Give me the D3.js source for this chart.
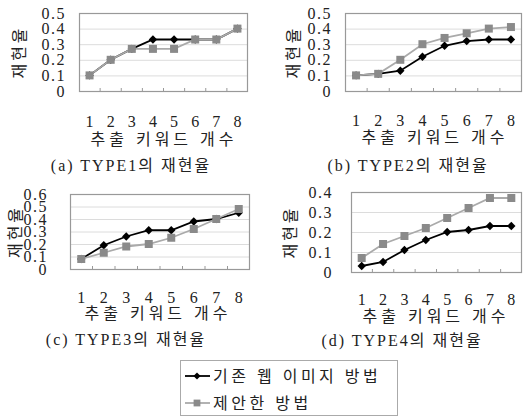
<!DOCTYPE html>
<html>
<head>
<meta charset="utf-8">
<script src="https://cdn.jsdelivr.net/npm/d3@7"></script>
<style>
  body { margin: 0; background: #fff; }
  svg text { font-family: "Liberation Serif", "Noto Sans CJK KR", serif; fill: #222; }
</style>
</head>
<body>
<div id="chart"></div>
<script>
// categories: number of extracted keywords
var keywordCounts = [1, 2, 3, 4, 5, 6, 7, 8];

// recall values, existing web-image method (black diamonds)
var type1Existing = [0.10, 0.20, 0.27, 0.33, 0.33, 0.33, 0.33, 0.40];
var type2Existing = [0.10, 0.11, 0.13, 0.22, 0.29, 0.32, 0.33, 0.33];
var type3Existing = [0.08, 0.19, 0.26, 0.31, 0.31, 0.38, 0.40, 0.45];
var type4Existing = [0.03, 0.05, 0.11, 0.16, 0.20, 0.21, 0.23, 0.23];

// recall values, proposed method (grey squares)
var type1Proposed = [0.10, 0.20, 0.27, 0.27, 0.27, 0.33, 0.33, 0.40];
var type2Proposed = [0.10, 0.11, 0.20, 0.30, 0.34, 0.37, 0.40, 0.41];
var type3Proposed = [0.08, 0.13, 0.18, 0.20, 0.25, 0.32, 0.40, 0.48];
var type4Proposed = [0.07, 0.14, 0.18, 0.22, 0.27, 0.32, 0.37, 0.37];

var yTicks5 = [0, 0.1, 0.2, 0.3, 0.4, 0.5];
var yTicks6 = [0, 0.1, 0.2, 0.3, 0.4, 0.5, 0.6];
var yTicks4 = [0, 0.1, 0.2, 0.3, 0.4];

var captions = ["(a) TYPE1의 재현율", "(b) TYPE2의 재현율", "(c) TYPE3의 재현율", "(d) TYPE4의 재현율"];
var yTitle = "재현율";
var xTitle = "추출 키워드 개수";
var legendLabels = ["기존 웹 이미지 방법", "제안한 방법"];

function run() {
  var width = 530, height = 417;
  var svg = d3.select("#chart").append("svg")
    .attr("width", width)
    .attr("height", height);

  // panel layout (box edges, label positions)
  var panels = [
    { a: type1Existing, b: type1Proposed, ticks: yTicks5, cap: captions[0],
      x0: 79, x1: 248, y0: 13, y1: 91, labPad: 13, titleX: 19, numY: 121, xtY: 139, xtX: 164, capY: 165, capX: 131 },
    { a: type2Existing, b: type2Proposed, ticks: yTicks5, cap: captions[1],
      x0: 345, x1: 522, y0: 13, y1: 91, labPad: 13, titleX: 293, numY: 120, xtY: 137, xtX: 435, capY: 165, capX: 408 },
    { a: type3Existing, b: type3Proposed, ticks: yTicks6, cap: captions[2],
      x0: 70, x1: 250, y0: 194, y1: 269, labPad: 22, titleX: 15, numY: 297, xtY: 313, xtX: 158, capY: 339, capX: 126 },
    { a: type4Existing, b: type4Proposed, ticks: yTicks4, cap: captions[3],
      x0: 351, x1: 522, y0: 192, y1: 272, labPad: 18, titleX: 290, numY: 299, xtY: 316, xtX: 436, capY: 340, capX: 402 }
  ];

  panels.forEach(function(p) { drawPanel(svg, p); });

  // legend
  var lg = svg.append("g");
  lg.append("rect")
    .attr("x", 180.5).attr("y", 360.5)
    .attr("width", 217).attr("height", 55)
    .attr("fill", "#fff").attr("stroke", "#aaa");
  legendLabels.forEach(function(lab, i) {
    var yy = 376 + i * 27;
    var col = i === 0 ? "#000" : "#aaa";
    lg.append("line")
      .attr("x1", 185).attr("x2", 210).attr("y1", yy).attr("y2", yy)
      .attr("stroke", col).attr("stroke-width", 1.8);
    marker(lg, i, 197, yy, 0.85);
    lg.append("text")
      .attr("x", 213).attr("y", yy)
      .attr("dy", "0.36em")
      .attr("font-size", 16)
      .attr("letter-spacing", 3.5)
      .text(lab);
  });
}

function marker(g, kind, cx, cy, k) {
  if (kind === 0) {
    var s = 4.2 * k;
    g.append("path")
      .attr("d", "M" + cx + "," + (cy - s) + "L" + (cx + s) + "," + cy + "L" + cx + "," + (cy + s) + "L" + (cx - s) + "," + cy + "Z")
      .attr("fill", "#000");
  } else {
    var h = 4 * k;
    g.append("rect")
      .attr("x", cx - h).attr("y", cy - h)
      .attr("width", 2 * h).attr("height", 2 * h)
      .attr("fill", "#8a8a8a");
  }
}

function drawPanel(svg, p) {
  var g = svg.append("g");

  var x = d3.scaleBand()
    .domain(keywordCounts)
    .range([p.x0, p.x1])
    .padding(0);

  var y = d3.scaleLinear()
    .domain([0, d3.max(p.ticks)])
    .range([p.y1, p.y0]);

  // gridlines
  g.append("g")
    .attr("transform", "translate(" + p.x0 + ",0)")
    .call(d3.axisLeft(y).tickValues(p.ticks.slice(1)).tickSize(-(p.x1 - p.x0)).tickFormat(""))
    .call(function(a) {
      a.select(".domain").remove();
      a.selectAll("line").attr("stroke", "#dcdcdc");
    });

  // y labels
  g.append("g")
    .attr("transform", "translate(" + p.x0 + ",0)")
    .call(d3.axisLeft(y).tickValues(p.ticks).tickSize(0).tickPadding(p.labPad)
      .tickFormat(function(d) { return d === 0 ? "0" : d.toFixed(1); }))
    .call(function(a) {
      a.select(".domain").remove();
      a.selectAll("text")
        .attr("font-size", 16)
        .attr("letter-spacing", 1.5)
        .attr("fill", "#222")
        .style("font-family", "'Liberation Serif', serif");
    });

  // small category ticks on the bottom edge
  var bounds = keywordCounts.slice(1).map(function(d) { return x(d); });
  g.selectAll(".ctick").data(bounds).enter().append("line")
    .attr("x1", function(d) { return d; }).attr("x2", function(d) { return d; })
    .attr("y1", p.y1).attr("y2", p.y1 - 3)
    .attr("stroke", "#999");

  // plot frame
  g.append("rect")
    .attr("x", p.x0 + 0.5).attr("y", p.y0 + 0.5)
    .attr("width", p.x1 - p.x0 - 1).attr("height", p.y1 - p.y0)
    .attr("fill", "none").attr("stroke", "#999").attr("stroke-width", 1.2);

  // x labels
  g.append("g")
    .attr("transform", "translate(0," + p.numY + ")")
    .call(d3.axisBottom(x).tickSize(0).tickPadding(0))
    .call(function(a) {
      a.select(".domain").remove();
      a.selectAll("text")
        .attr("font-size", 16)
        .attr("dy", "0.36em")
        .attr("fill", "#222")
        .style("font-family", "'Liberation Serif', serif");
    });

  var line = d3.line()
    .x(function(d, i) { return x(keywordCounts[i]) + x.bandwidth() / 2; })
    .y(function(d) { return y(d); });

  // existing (black) first, proposed (grey) on top
  g.append("path").datum(p.a)
    .attr("d", line).attr("fill", "none")
    .attr("stroke", "#000").attr("stroke-width", 1.8);
  p.a.forEach(function(v, i) {
    marker(g, 0, x(keywordCounts[i]) + x.bandwidth() / 2, y(v), 1);
  });
  g.append("path").datum(p.b)
    .attr("d", line).attr("fill", "none")
    .attr("stroke", "#aaa").attr("stroke-width", 1.8);
  p.b.forEach(function(v, i) {
    marker(g, 1, x(keywordCounts[i]) + x.bandwidth() / 2, y(v), 1);
  });

  // y title
  g.append("text")
    .attr("transform", "translate(" + p.titleX + "," + ((p.y0 + p.y1) / 2) + ") rotate(-90)")
    .attr("text-anchor", "middle")
    .attr("dy", "0.36em")
    .attr("font-size", 16)
    .attr("letter-spacing", 3)
    .text(yTitle);

  // x title
  g.append("text")
    .attr("x", p.xtX).attr("y", p.xtY)
    .attr("text-anchor", "middle")
    .attr("dy", "0.36em")
    .attr("font-size", 16)
    .attr("letter-spacing", 4)
    .text(xTitle);

  // caption
  g.append("text")
    .attr("x", p.capX).attr("y", p.capY)
    .attr("text-anchor", "middle")
    .attr("dy", "0.36em")
    .attr("font-size", 16)
    .attr("letter-spacing", 2)
    .text(p.cap);
}

document.addEventListener("DOMContentLoaded", run);
</script>
</body>
</html>
